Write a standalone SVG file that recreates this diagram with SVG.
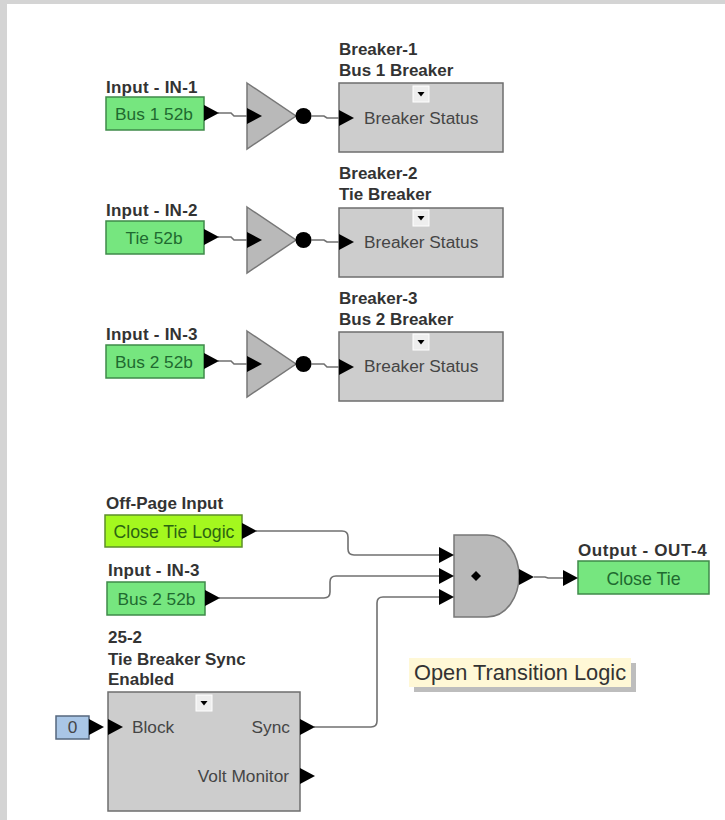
<svg xmlns="http://www.w3.org/2000/svg" width="725" height="820" viewBox="0 0 725 820">
<style>
text{font-family:"Liberation Sans",Arial,sans-serif;font-size:17.300px;fill:#454545}
.t{font-weight:bold;font-size:17px;fill:#333}
.g{fill:#76e67f;stroke:#3f8a4a;stroke-width:1.5}
.gt{fill:#1f6a30;text-anchor:middle}
.b{fill:#cdcdcd;stroke:#6e6e6e;stroke-width:1.5}
.gate{fill:#b9b9b9;stroke:#777;stroke-width:1.5}
.w{fill:none;stroke:#707070;stroke-width:1.6}
.a{fill:#000}
.dd{fill:#eee;stroke:#fff;stroke-width:1}
</style>
<defs>
<path id="ar" class="a" d="M0-8L15 0L0 8Z"/>
<g id="drop"><rect class="dd" x="-8" y="-8" width="16" height="16"/><path class="a" d="M-3.500-2H3.500L0 2.500Z"/></g>
</defs>
<rect width="725" height="820" fill="#fff"/>
<path d="M0 0H725V4H7V820H0Z" fill="#d4d4d4"/>
<g id="in1"><text class="t" x="106" y="93" letter-spacing=".25">Input - IN-1</text><rect class="g" x="106" y="97" width="98" height="33"/><text class="gt" x="154" y="120">Bus 1 52b</text></g>
<g id="not1"><path class="gate" d="M247 83L296 116L247 149Z"/><circle class="a" cx="303.500" cy="116" r="8"/></g>
<g id="brk1"><text class="t" x="339" y="55">Breaker-1</text><text class="t" x="339" y="76">Bus 1 Breaker</text><rect class="b" x="339" y="83" width="164" height="69"/><use href="#drop" x="421" y="94"/><text x="364" y="124">Breaker Status</text></g>
<g id="in2"><text class="t" x="106" y="216" letter-spacing=".25">Input - IN-2</text><rect class="g" x="106" y="221" width="98" height="33"/><text class="gt" x="154" y="244">Tie 52b</text></g>
<g id="not2"><path class="gate" d="M247 207L296 240L247 273Z"/><circle class="a" cx="303.500" cy="240" r="8"/></g>
<g id="brk2"><text class="t" x="339" y="179">Breaker-2</text><text class="t" x="339" y="200">Tie Breaker</text><rect class="b" x="339" y="208" width="164" height="69"/><use href="#drop" x="421" y="218"/><text x="364" y="248">Breaker Status</text></g>
<g id="in3"><text class="t" x="106" y="340" letter-spacing=".25">Input - IN-3</text><rect class="g" x="106" y="345" width="98" height="33"/><text class="gt" x="154" y="368">Bus 2 52b</text></g>
<g id="not3"><path class="gate" d="M247 331L296 364L247 397Z"/><circle class="a" cx="303.500" cy="364" r="8"/></g>
<g id="brk3"><text class="t" x="339" y="304">Breaker-3</text><text class="t" x="339" y="325">Bus 2 Breaker</text><rect class="b" x="339" y="332" width="164" height="69"/><use href="#drop" x="421" y="342"/><text x="364" y="372">Breaker Status</text></g>
<g id="offpage"><text class="t" x="106" y="509">Off-Page Input</text><rect x="105" y="515" width="137" height="32" fill="#a4f81e" stroke="#5c8f2a" stroke-width="1.500"/><text class="gt" x="174" y="538" style="fill:#2c6412;font-size:17.700px">Close Tie Logic</text></g>
<g id="in3b"><text class="t" x="108" y="576" letter-spacing=".25">Input - IN-3</text><rect class="g" x="107" y="582" width="98" height="33"/><text class="gt" x="156.500" y="605">Bus 2 52b</text></g>
<g id="sync"><text class="t" x="108" y="643">25-2</text><text class="t" x="108" y="665">Tie Breaker Sync</text><text class="t" x="108" y="685">Enabled</text><rect class="b" x="108" y="692" width="192" height="119"/><use href="#drop" x="204" y="703"/><text x="132" y="733">Block</text><text x="290" y="733" text-anchor="end">Sync</text><text x="289" y="782" text-anchor="end">Volt Monitor</text></g>
<g id="const0"><rect x="56" y="716" width="33" height="23" fill="#a9c6e6" stroke="#55677d" stroke-width="1.500"/><text x="72.500" y="733" text-anchor="middle">0</text></g>
<g id="and"><path class="gate" d="M454 535H487C507 535 519 556 519 576C519 596 507 617 487 617H454Z"/><path class="a" d="M476 571L481 576L476 581L471 576Z"/></g>
<g id="out4"><text class="t" x="578" y="556" letter-spacing=".6">Output - OUT-4</text><rect class="g" x="578" y="561" width="131" height="33"/><text class="gt" x="643.500" y="585" style="font-size:17.800px">Close Tie</text></g>
<g id="note"><rect x="414" y="663" width="222" height="29" fill="#bdbdbd"/><rect x="409" y="658" width="222" height="29" fill="#fff8d6"/><text x="414" y="680" style="font-size:21.800px;fill:#333">Open Transition Logic</text></g>
<g id="connectors">
<path class="w" d="M218 113H231L234 116H247"/>
<path class="w" d="M311 116H324L327 118H339"/>
<path class="w" d="M218 237H231L234 240H247"/>
<path class="w" d="M311 240H324L327 242H339"/>
<path class="w" d="M218 361H231L234 364H247"/>
<path class="w" d="M311 364H324L327 367H339"/>
<path class="w" d="M256 531H342Q348 531 348 537V549Q348 555 354 555H440"/>
<path class="w" d="M219 598H324Q330 598 330 592V582Q330 576 336 576H440"/>
<path class="w" d="M314 727H371Q377 727 377 721V603Q377 597 383 597H440"/>
<path class="w" d="M534 577H545L548 578H563"/>
<use href="#ar" x="204" y="113"/><use href="#ar" x="247" y="116"/><use href="#ar" x="339" y="118"/>
<use href="#ar" x="204" y="237"/><use href="#ar" x="247" y="240"/><use href="#ar" x="339" y="242"/>
<use href="#ar" x="204" y="361"/><use href="#ar" x="247" y="364"/><use href="#ar" x="339" y="367"/>
<use href="#ar" x="242" y="531"/><use href="#ar" x="205" y="598"/>
<use href="#ar" x="439" y="555"/><use href="#ar" x="439" y="576"/><use href="#ar" x="439" y="597"/>
<use href="#ar" x="519" y="577"/><use href="#ar" x="563" y="578"/>
<use href="#ar" x="89" y="727"/><use href="#ar" x="108" y="727"/><use href="#ar" x="300" y="727"/><use href="#ar" x="300" y="776"/>
</g>
</svg>
